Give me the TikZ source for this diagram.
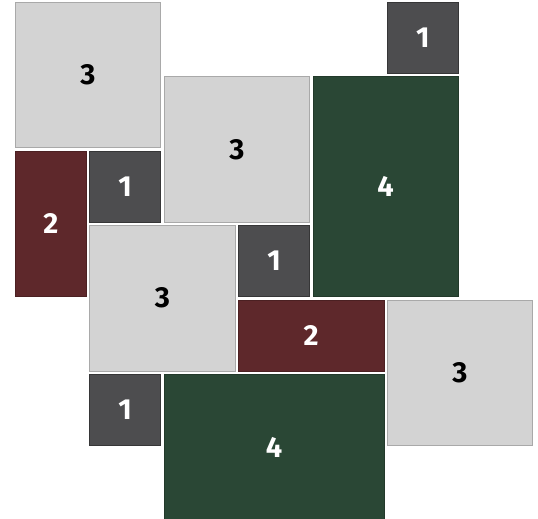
\documentclass[tikz,border=0pt]{standalone}
\usepackage{fontspec}
\setmainfont{Fira Sans}
\usepackage{tikz}
\usetikzlibrary{positioning}
\definecolor{tilelight}{RGB}{211,211,211}
\definecolor{tiledark}{RGB}{77,77,79}
\definecolor{tilered}{RGB}{94,40,43}
\definecolor{tilegreen}{RGB}{42,71,53}

\begin{document}
\begin{tikzpicture}[
    x=74.4pt, y=-74.4pt,
    every node/.style={font=\fontsize{29}{29}\selectfont\bfseries},
    tile/.style={rectangle, draw, inner sep=0pt, anchor=north west, line width=0.7pt},
    span/.style 2 args={minimum width={#1*74.4pt-3.5pt}, minimum height={#2*74.4pt-3.5pt}},
    one/.style={tile, span={1}{1}, fill=tiledark, draw=tiledark!70!black, text=white},
    two/.style={tile, fill=tilered, draw=tilered!80!black, text=white},
    three/.style={tile, span={2}{2}, fill=tilelight, draw=tilelight!80!black, text=black},
    four/.style={tile, fill=tilegreen, draw=tilegreen!80!black, text=white},
]
    \useasboundingbox ([shift={(-15pt,2pt)}]0,0) rectangle ([shift={(523pt,-517pt)}]0,0);

    % Top rows
    \node[three] (threeA) at (0, 0) {3};
    \node[one] (oneA) at (5, 0) {1};
    \node[three] (threeB) at (2, 1) {3};
    \node[four, span={2}{3}] (fourA) at (4, 1) {4};

    % Middle rows
    \node[two, span={1}{2}] (twoA) at (0, 2) {2};
    \node[one] (oneB) at (1, 2) {1};
    \node[three] (threeC) at (1, 3) {3};
    \node[one] (oneC) at (3, 3) {1};
    \node[two, span={2}{1}] (twoB) at (3, 4) {2};
    \node[three] (threeD) at (5, 4) {3};

    % Bottom rows
    \node[one] (oneD) at (1, 5) {1};
    \node[four, span={3}{2}] (fourB) at (2, 5) {4};
\end{tikzpicture}
\end{document}
